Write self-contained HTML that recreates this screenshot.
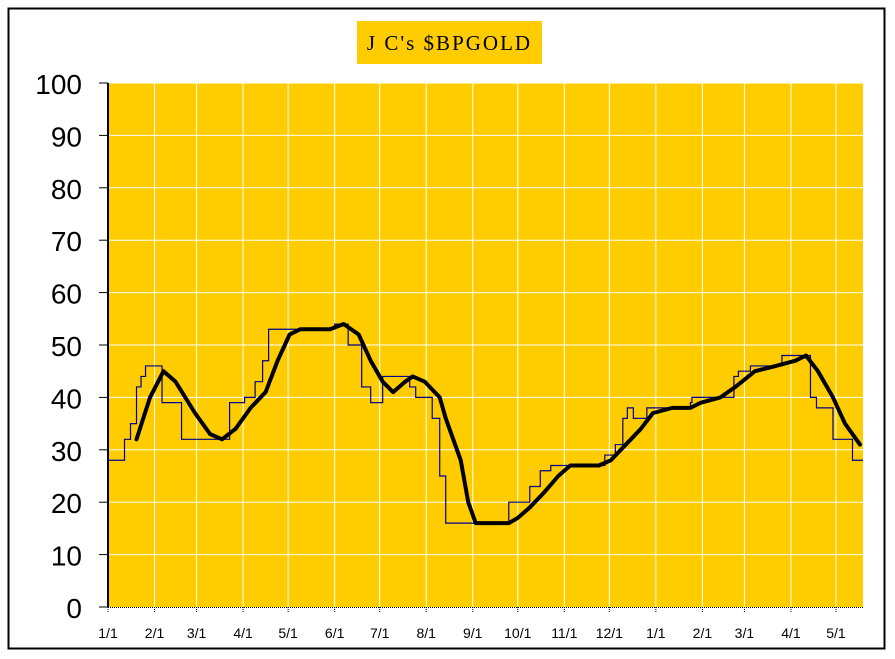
<!DOCTYPE html>
<html><head><meta charset="utf-8"><style>
html,body{margin:0;padding:0;background:#fff;width:895px;height:659px;overflow:hidden}
svg{display:block}
</style></head><body>
<svg id="chart" width="895" height="659" xmlns="http://www.w3.org/2000/svg">
<rect x="8.5" y="8.5" width="876" height="640" fill="#fff" stroke="#000" stroke-width="2"/>
<rect x="357" y="21" width="185" height="43" fill="#FFCC00"/>
<text x="449.5" y="50" text-anchor="middle" font-family="'Liberation Serif',serif" font-size="21" letter-spacing="2">J C's $BPGOLD</text>
<rect x="108" y="83" width="755" height="524" fill="#FFCC00"/>
<g id="grid"></g>
<g id="axes"></g>
<g id="series"></g>
</svg>
<script>
const yTicks=[0,10,20,30,40,50,60,70,80,90,100];
const xTickDays=[0,31,59,90,120,151,181,212,243,273,304,334,365,396,424,455,485];
const xTickLabels=["1/1","2/1","3/1","4/1","5/1","6/1","7/1","8/1","9/1","10/1","11/1","12/1","1/1","2/1","3/1","4/1","5/1"];
const priceDays=[0,11,15,19,22,25,36,49,81,91,98,103,107,151,160,169,175,183,201,205,216,221,225,267,281,288,295,331,338,343,346,350,359,388,389,417,420,428,449,468,472,483,496,503];
const priceValues=[28,32,35,42,44,46,39,32,39,40,43,47,53,54,50,42,39,44,42,40,36,25,16,20,23,26,27,29,31,36,38,36,38,39,40,44,45,46,48,40,38,32,28,28];
const maDays=[19,28,37,45,58,68,76,85,95,105,113,121,128,148,157,167,175,183,190,198,203,211,221,225,235,240,245,267,273,281,291,300,308,327,335,345,355,363,376,388,395,408,418,431,445,458,465,473,483,491,501];
const maValues=[32,40,45,43,37,33,32,34,38,41,47,52,53,53,54,52,47,43,41,43,44,43,40,36,28,20,16,16,17,19,22,25,27,27,28,31,34,37,38,38,39,40,42,45,46,47,48,45,40,35,31];
const NS="http://www.w3.org/2000/svg";
const X0=108,X1=863,Y0=607,Y1=83,DMAX=503;
const xs=d=>X0+(d/DMAX)*(X1-X0);
const ys=v=>Y0-(v/100)*(Y0-Y1);
function mk(tag,attrs,parent){const e=document.createElementNS(NS,tag);for(const k in attrs)e.setAttribute(k,attrs[k]);parent.appendChild(e);return e;}
const grid=document.getElementById('grid'),axes=document.getElementById('axes'),series=document.getElementById('series');
yTicks.forEach(v=>{
  if(v>0){const l=mk('line',{x1:X0,x2:X1,y1:ys(v),y2:ys(v),stroke:'#fff','stroke-width':1},grid);
  
  }
  const t=mk('line',{x1:X0-9,x2:X0,y1:ys(v),y2:ys(v),stroke:'#000','stroke-width':1},axes);
  
  
  const tx=mk('text',{x:82,y:ys(v)+11,'text-anchor':'end','font-family':"'Liberation Sans',sans-serif",'font-size':28},axes);
  tx.textContent=v;
  
  
});
xTickDays.forEach((d,i)=>{
  if(d>0){const l=mk('line',{x1:xs(d),x2:xs(d),y1:Y1,y2:Y0,stroke:'#fff','stroke-width':1},grid);
  
  }
  const t=mk('line',{x1:xs(d),x2:xs(d),y1:Y0,y2:Y0+6,stroke:'#000','stroke-width':1,'stroke-dasharray':'1,1'},axes);
  
  
  const tx=mk('text',{x:xs(d),y:Y0+31,'text-anchor':'middle','font-family':"'Liberation Sans',sans-serif",'font-size':14},axes);
  tx.textContent=xTickLabels[i];
  
  
});
const ya=mk('line',{x1:X0,x2:X0,y1:Y1,y2:Y0,stroke:'#000','stroke-width':2},axes);


const xa=mk('line',{x1:X0,x2:X1,y1:Y0+0.5,y2:Y0+0.5,stroke:'#000','stroke-width':1,'stroke-dasharray':'1,1'},axes);


let p='';
priceDays.forEach((d,i)=>{
  if(i===0)p+='M'+xs(d)+','+ys(priceValues[i]);
  else p+=' H'+xs(d)+' V'+ys(priceValues[i]);
});
const pl=mk('path',{d:p,fill:'none',stroke:'#00008B','stroke-width':1.2},series);


const mp=maDays.map((d,i)=>(i?'L':'M')+xs(d)+','+ys(maValues[i])).join(' ');
const ml=mk('path',{d:mp,fill:'none',stroke:'#000','stroke-width':4,'stroke-linejoin':'round','stroke-linecap':'round'},series);


</script>
</body></html>
